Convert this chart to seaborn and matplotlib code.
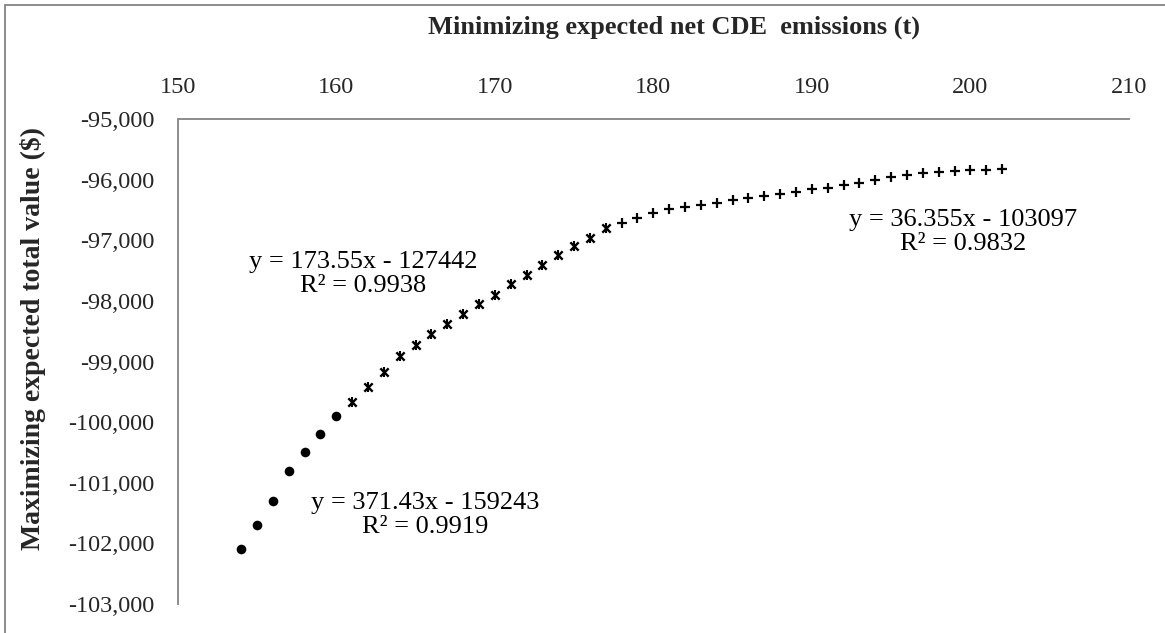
import matplotlib
matplotlib.use("Agg")
import matplotlib.pyplot as plt
import seaborn as sns
from matplotlib.ticker import FuncFormatter
from matplotlib.lines import Line2D

# ---------------- data ----------------
s1_x = [154, 155, 156, 157, 158, 159, 160]
s1_y = [-102100, -101700, -101300, -100800, -100500, -100200, -99900]

s2_x = list(range(161, 178))
s2_y = [-99665, -99417, -99165, -98911, -98729, -98553, -98388, -98223, -98053,
        -97904, -97728, -97574, -97409, -97244, -97096, -96958, -96804]

s3_x = list(range(178, 203))
s3_y = [-96711, -96639, -96557, -96490, -96455, -96419, -96380, -96335, -96297,
        -96271, -96238, -96200, -96160, -96132, -96089, -96051, -96005, -95962,
        -95924, -95890, -95870, -95855, -95845, -95838, -95830]

x_ticks = [150, 160, 170, 180, 190, 200, 210]
y_ticks = [-103000, -102000, -101000, -100000, -99000, -98000, -97000, -96000, -95000]

x_title = "Minimizing expected net CDE  emissions (t)"
y_title = "Maximizing expected total value ($)"
eq1 = "y = 371.43x - 159243\nR² = 0.9919"
eq2 = "y = 173.55x - 127442\nR² = 0.9938"
eq3 = "y = 36.355x - 103097\nR² = 0.9832"

# ---------------- style ----------------
sns.set_style("white")
plt.rcParams['font.family'] = ['Liberation Serif', 'DejaVu Serif']
plt.rcParams['axes.unicode_minus'] = False

W, H = 1165, 633
fig = plt.figure(figsize=(W / 100, H / 100), dpi=100)
L, R, T, B = 177.7, 1129.0, 119.0, 604.0
ax = fig.add_axes([L / W, 1 - B / H, (R - L) / W, (B - T) / H])

sns.scatterplot(x=s1_x, y=s1_y, marker='o', s=48, color='black',
                edgecolor='black', linewidth=0, ax=ax)
sns.scatterplot(x=s2_x, y=s2_y, marker='x', s=36, color='black',
                linewidth=1.7, ax=ax)
sns.scatterplot(x=s2_x, y=s2_y, marker='|', s=60, color='black',
                linewidth=1.5, ax=ax)
sns.scatterplot(x=s3_x, y=s3_y, marker='+', s=60, color='black',
                linewidth=1.6, ax=ax)

ax.set_xlim(150, 210)
ax.set_ylim(-103000, -95000)
ax.set_xticks(x_ticks)
ax.set_yticks(y_ticks)
ax.yaxis.set_major_formatter(FuncFormatter(lambda v, p: f"{int(v):,}"))
ax.xaxis.tick_top()
ax.tick_params(axis='both', length=0, labelsize=17.5)
ax.tick_params(axis='x', pad=15)
ax.tick_params(axis='y', pad=17)
ax.set_xlabel('')
ax.set_ylabel('')
ax.grid(False)

for side in ['right', 'bottom']:
    ax.spines[side].set_visible(False)
for side in ['top', 'left']:
    ax.spines[side].set_visible(True)
    ax.spines[side].set_color('#8c8c8c')
    ax.spines[side].set_linewidth(1.4)


def px2data(px, py):
    return (150 + (px - L) / (R - L) * 60,
            -95000 - (py - T) / (B - T) * 8000)


for (px, py), txt in [((425, 515), eq1), ((363, 274), eq2), ((963.5, 232), eq3)]:
    dx, dy = px2data(px, py)
    ax.text(dx, dy, txt, ha='center', va='center', multialignment='center',
            fontsize=19, linespacing=1.08, color='black')

fig.text(674 / W, 1 - 27 / H, x_title, ha='center', va='center',
         fontsize=19, fontweight='bold')
fig.text(33 / W, 1 - 338 / H, y_title, ha='center', va='center',
         rotation=90, fontsize=20, fontweight='bold')

# outer chart border (top and left visible)
fig.add_artist(Line2D([5 / W, 1], [1 - 5 / H, 1 - 5 / H], transform=fig.transFigure,
                      color='#8c8c8c', lw=1.4))
fig.add_artist(Line2D([5 / W, 5 / W], [0, 1 - 5 / H], transform=fig.transFigure,
                      color='#8c8c8c', lw=1.4))

fig.savefig('out.png', dpi=100)
